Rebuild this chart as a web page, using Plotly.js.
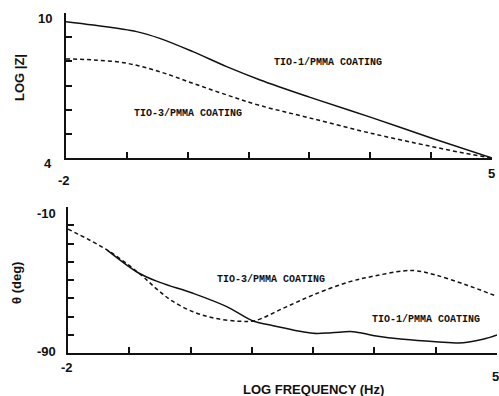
<!DOCTYPE html>
<html>
<head>
<meta charset="utf-8">
<script src="https://cdn.plot.ly/plotly-3.0.1.min.js"></script>
<style>html,body{margin:0;padding:0;background:#fff;}#chart{width:499px;height:396px;}</style>
</head>
<body>
<div id="chart"></div>
<script>
// ---- data ----
// Top panel: LOG |Z| vs LOG FREQUENCY
var tio1ZFreq = [-2, -1.55, -0.84, -0.46, 0.085, 0.64, 1.19, 2.0, 3.0, 4.0, 5.0];
var tio1LogZ  = [9.64, 9.5, 9.23, 8.95, 8.4, 7.78, 7.23, 6.52, 5.69, 4.83, 4.0];
var tio3ZFreq = [-2, -1.55, -1.0, -0.46, 0.085, 0.64, 1.19, 2.0, 3.0, 4.0, 4.55, 5.0];
var tio3LogZ  = [8.1, 8.06, 7.92, 7.57, 7.09, 6.61, 6.17, 5.66, 5.03, 4.48, 4.2, 4.0];
// Bottom panel: phase angle vs LOG FREQUENCY
var tio3PFreq = [-2, -1.36, -0.84, -0.55, -0.3, 0.04, 0.4, 0.8, 1.05, 1.51, 2.0, 2.6, 3.0, 3.47, 3.7, 4.0, 4.5, 5.0];
var tio3Phase = [-22.1, -33.6, -46.3, -55, -61.5, -67.4, -71, -72.6, -72.3, -65.5, -58.2, -50.9, -47.8, -45, -45, -47.3, -52.7, -59];
var tio1PFreq = [-1.36, -0.84, -0.5, 0.04, 0.59, 1.02, 1.3, 2.0, 2.3, 2.65, 3.0, 3.47, 4.0, 4.45, 4.77, 5.0];
var tio1Phase = [-33.6, -46.3, -51.3, -57.3, -64.6, -72.5, -74.7, -79.2, -78.9, -78.3, -80.5, -82.5, -83.8, -84.4, -82.5, -80.1];
// ticks and labels
var freqTicks = [-2, -1, 0, 1, 2, 3, 4, 5];
var logZTicks = [4, 5, 6, 7, 8, 9, 10];
var phaseTicks = [-90, -80, -70, -60, -50, -40, -30, -20, -10];
var freqEndLabels = ['-2', '5'];
var logZEndLabels = ['10', '4'];
var phaseEndLabels = ['-10', '-90'];
var seriesNames = ['TIO-1/PMMA COATING', 'TIO-3/PMMA COATING'];
var titles = {logZ: 'LOG |Z|', phase: 'θ (deg)', freq: 'LOG FREQUENCY (Hz)'};

var ink = '#111';
var traces = [
  {x: tio1ZFreq, y: tio1LogZ, xaxis: 'x', yaxis: 'y', mode: 'lines', name: seriesNames[0],
   line: {color: ink, width: 1.5, shape: 'spline', smoothing: 1}},
  {x: tio3ZFreq, y: tio3LogZ, xaxis: 'x', yaxis: 'y', mode: 'lines', name: seriesNames[1],
   line: {color: ink, width: 1.5, dash: '4px,3px', shape: 'spline', smoothing: 1}},
  {x: tio3PFreq, y: tio3Phase, xaxis: 'x2', yaxis: 'y2', mode: 'lines', name: seriesNames[1],
   line: {color: ink, width: 1.5, dash: '4px,3px', shape: 'spline', smoothing: 1}},
  {x: tio1PFreq, y: tio1Phase, xaxis: 'x2', yaxis: 'y2', mode: 'lines', name: seriesNames[0],
   line: {color: ink, width: 1.5, shape: 'spline', smoothing: 1}}
];

function axisBase(extra) {
  var a = {showline: true, linecolor: ink, linewidth: 2, mirror: false,
    showgrid: false, zeroline: false, ticks: 'inside', ticklen: 6, tickwidth: 2,
    tickcolor: ink, showticklabels: false, fixedrange: true};
  for (var k in extra) a[k] = extra[k];
  return a;
}

var tickFont = {family: 'Liberation Sans, Arial, sans-serif', size: 13, color: ink, weight: 'bold'};
var titleFont = {family: 'Liberation Sans, Arial, sans-serif', size: 13, color: ink, weight: 'bold'};
var labelFont = {family: 'Liberation Mono, DejaVu Sans Mono, monospace', size: 10, color: ink, weight: 'bold'};

var ann = [];
function tickAnn(xref, yref, x, y, text, xanchor, xshift, yshift) {
  ann.push({xref: xref, yref: yref, x: x, y: y, text: text, showarrow: false,
    xanchor: xanchor, yanchor: 'middle', xshift: xshift, yshift: yshift, font: tickFont});
}
// top panel tick end labels
tickAnn('x', 'y', freqTicks[0], logZTicks[logZTicks.length - 1], logZEndLabels[0], 'right', -12, -5);
tickAnn('x', 'y', freqTicks[0], logZTicks[0], logZEndLabels[1], 'right', -12, -5);
tickAnn('x', 'y', freqTicks[0], logZTicks[0], freqEndLabels[0], 'center', -2, -22);
tickAnn('x', 'y', freqTicks[freqTicks.length - 1], logZTicks[0], freqEndLabels[1], 'center', -1, -15);
// bottom panel tick end labels
tickAnn('x2', 'y2', freqTicks[0], phaseTicks[phaseTicks.length - 1], phaseEndLabels[0], 'right', -10, -6);
tickAnn('x2', 'y2', freqTicks[0], phaseTicks[0], phaseEndLabels[1], 'right', -10, 2);
tickAnn('x2', 'y2', freqTicks[0], phaseTicks[0], freqEndLabels[0], 'center', -1, -14);
tickAnn('x2', 'y2', freqTicks[freqTicks.length - 1], phaseTicks[0], freqEndLabels[1], 'center', -2, -23);

// axis titles
ann.push({xref: 'paper', yref: 'paper', x: 19 / 499, y: 1 - 78 / 396, text: titles.logZ, textangle: -90,
  showarrow: false, xanchor: 'center', yanchor: 'middle', font: titleFont});
ann.push({xref: 'paper', yref: 'paper', x: 16 / 499, y: 1 - 283 / 396, text: titles.phase, textangle: -90,
  showarrow: false, xanchor: 'center', yanchor: 'middle', font: titleFont});
ann.push({xref: 'paper', yref: 'paper', x: 313 / 499, y: 1 - 389 / 396, text: titles.freq,
  showarrow: false, xanchor: 'center', yanchor: 'middle', font: titleFont});

// curve labels
function curveLabel(px, py, text) {
  ann.push({xref: 'paper', yref: 'paper', x: px / 499, y: 1 - py / 396, text: text, showarrow: false,
    xanchor: 'center', yanchor: 'middle', font: labelFont});
}
curveLabel(328, 62, seriesNames[0]);
curveLabel(188, 113, seriesNames[1]);
curveLabel(271, 279, seriesNames[1]);
curveLabel(426, 319, seriesNames[0]);

var layout = {
  width: 499, height: 396,
  margin: {l: 0, r: 0, t: 0, b: 0},
  paper_bgcolor: '#fff', plot_bgcolor: '#fff',
  showlegend: false,
  xaxis: axisBase({domain: [66 / 499, 492 / 499], range: [-2, 5], tickvals: freqTicks, anchor: 'y'}),
  yaxis: axisBase({domain: [1 - 158 / 396, 1 - 13 / 396], range: [4, 10], tickvals: logZTicks, anchor: 'x'}),
  xaxis2: axisBase({domain: [68 / 499, 497 / 499], range: [-2, 5], tickvals: freqTicks, anchor: 'y2'}),
  yaxis2: axisBase({domain: [1 - 353 / 396, 1 - 207 / 396], range: [-90, -10], tickvals: phaseTicks, anchor: 'x2'}),
  annotations: ann
};

Plotly.newPlot('chart', traces, layout, {staticPlot: true, displayModeBar: false});
</script>
</body>
</html>
